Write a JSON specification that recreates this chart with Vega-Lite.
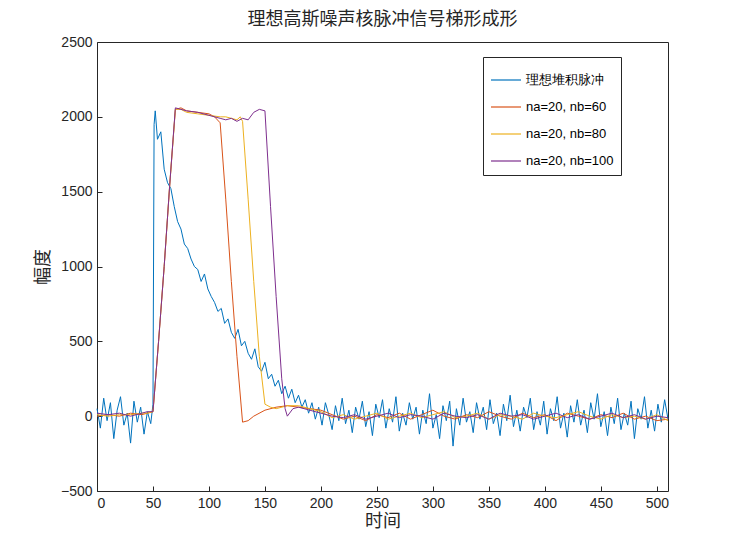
{
  "$schema": "https://vega.github.io/schema/vega-lite/v6.json",
  "width": 571,
  "height": 449,
  "autosize": "none",
  "padding": {"left": 97, "top": 42, "right": 71, "bottom": 63},
  "background": "white",
  "config": {
    "font": "Noto Sans CJK SC",
    "view": {"stroke": "#262626", "strokeWidth": 1},
    "axis": {"grid": false, "domain": false, "tickSize": -5, "labelPadding": 10, "format": "d", "tickColor": "#262626", "labelFontSize": 14, "labelColor": "#262626", "titleFontSize": 18, "titleFontWeight": "normal", "titleColor": "#262626", "labelFont": "Liberation Sans"}
  },
  "title": {"text": "理想高斯噪声核脉冲信号梯形成形", "fontSize": 18, "fontWeight": "normal", "color": "#262626", "offset": 6},
  "datasets": {
    "blue": [
      {"t":0,"v":50},{"t":3,"v":-80},{"t":6,"v":120},{"t":9,"v":-30},{"t":12,"v":90},{"t":15,"v":-150},{"t":18,"v":40},{"t":21,"v":130},{"t":24,"v":-60},{"t":27,"v":20},{"t":30,"v":-180},{"t":33,"v":100},{"t":36,"v":-40},{"t":39,"v":60},{"t":42,"v":-120},{"t":45,"v":30},{"t":48,"v":-50},{"t":50,"v":80},{"t":51,"v":1950},{"t":52,"v":2040},{"t":54,"v":1850},{"t":57,"v":1900},{"t":60,"v":1650},{"t":63,"v":1560},{"t":66,"v":1520},{"t":69,"v":1400},{"t":72,"v":1300},{"t":75,"v":1250},{"t":78,"v":1150},{"t":81,"v":1120},{"t":84,"v":1050},{"t":87,"v":1000},{"t":90,"v":980},{"t":93,"v":900},{"t":96,"v":950},{"t":99,"v":850},{"t":102,"v":800},{"t":105,"v":760},{"t":108,"v":700},{"t":111,"v":720},{"t":114,"v":620},{"t":117,"v":650},{"t":120,"v":560},{"t":123,"v":520},{"t":126,"v":580},{"t":129,"v":470},{"t":132,"v":500},{"t":135,"v":420},{"t":138,"v":380},{"t":141,"v":450},{"t":144,"v":330},{"t":147,"v":300},{"t":150,"v":360},{"t":153,"v":250},{"t":156,"v":280},{"t":159,"v":200},{"t":162,"v":240},{"t":165,"v":150},{"t":168,"v":200},{"t":171,"v":120},{"t":174,"v":180},{"t":177,"v":90},{"t":180,"v":140},{"t":183,"v":60},{"t":186,"v":110},{"t":189,"v":20},{"t":192,"v":90},{"t":195,"v":-20},{"t":198,"v":60},
      {"t":201,"v":-60},{"t":204,"v":90},{"t":207,"v":10},{"t":210,"v":-90},{"t":213,"v":70},{"t":216,"v":-30},{"t":219,"v":120},{"t":222,"v":-50},{"t":225,"v":40},{"t":228,"v":-110},{"t":231,"v":60},{"t":234,"v":-20},{"t":237,"v":100},{"t":240,"v":-70},{"t":243,"v":30},{"t":246,"v":-130},{"t":249,"v":80},{"t":252,"v":-10},{"t":255,"v":110},{"t":258,"v":-80},{"t":261,"v":50},{"t":264,"v":-40},{"t":267,"v":130},{"t":270,"v":-100},{"t":273,"v":20},{"t":276,"v":-60},{"t":279,"v":90},{"t":282,"v":-20},{"t":285,"v":60},{"t":288,"v":-120},{"t":291,"v":40},{"t":294,"v":-50},{"t":297,"v":150},{"t":300,"v":-80},{"t":303,"v":10},{"t":306,"v":-150},{"t":309,"v":70},{"t":312,"v":-30},{"t":315,"v":100},{"t":318,"v":-200},{"t":321,"v":50},{"t":324,"v":-60},{"t":327,"v":120},{"t":330,"v":-40},{"t":333,"v":30},{"t":336,"v":-110},{"t":339,"v":90},{"t":342,"v":-20},{"t":345,"v":60},{"t":348,"v":-90},{"t":351,"v":110},{"t":354,"v":-50},{"t":357,"v":20},{"t":360,"v":-130},{"t":363,"v":80},{"t":366,"v":-30},{"t":369,"v":140},{"t":372,"v":-70},{"t":375,"v":40},{"t":378,"v":-100},{"t":381,"v":60},{"t":384,"v":-10},{"t":387,"v":120},{"t":390,"v":-90},{"t":393,"v":30},{"t":396,"v":-60},{"t":399,"v":100},{"t":402,"v":-120},{"t":405,"v":50},{"t":408,"v":-30},{"t":411,"v":130},{"t":414,"v":-80},{"t":417,"v":20},{"t":420,"v":-140},{"t":423,"v":70},{"t":426,"v":-40},{"t":429,"v":110},{"t":432,"v":-60},{"t":435,"v":40},{"t":438,"v":-110},{"t":441,"v":90},{"t":444,"v":-20},{"t":447,"v":150},{"t":450,"v":-70},{"t":453,"v":30},{"t":456,"v":-130},{"t":459,"v":60},{"t":462,"v":-50},{"t":465,"v":120},{"t":468,"v":-90},{"t":471,"v":20},{"t":474,"v":-60},{"t":477,"v":100},{"t":480,"v":-150},{"t":483,"v":50},{"t":486,"v":-20},{"t":489,"v":130},{"t":492,"v":-80},{"t":495,"v":40},{"t":498,"v":-100},{"t":501,"v":80},{"t":504,"v":-40},{"t":507,"v":110},{"t":510,"v":-20}
    ],
    "red": [
      {"t":0,"v":0},{"t":10,"v":10},{"t":20,"v":0},{"t":30,"v":20},{"t":40,"v":10},{"t":45,"v":20},{"t":50,"v":30},{"t":55,"v":500},{"t":60,"v":1000},{"t":65,"v":1550},{"t":70,"v":2050},{"t":75,"v":2060},{"t":80,"v":2040},{"t":90,"v":2030},{"t":100,"v":2020},{"t":105,"v":2000},{"t":110,"v":1960},{"t":115,"v":1450},{"t":120,"v":900},{"t":125,"v":400},{"t":130,"v":-40},{"t":135,"v":-30},{"t":140,"v":0},{"t":150,"v":40},{"t":160,"v":60},{"t":170,"v":70},{"t":180,"v":60},{"t":190,"v":50},{"t":200,"v":40},{"t":210,"v":10},{"t":220,"v":-20},{"t":230,"v":0},{"t":240,"v":-30},{"t":250,"v":10},{"t":260,"v":-10},{"t":270,"v":20},{"t":280,"v":-20},{"t":290,"v":10},{"t":300,"v":40},{"t":310,"v":0},{"t":320,"v":-20},{"t":330,"v":10},{"t":340,"v":-10},{"t":350,"v":30},{"t":360,"v":0},{"t":370,"v":-20},{"t":380,"v":20},{"t":390,"v":-10},{"t":400,"v":10},{"t":410,"v":-30},{"t":420,"v":20},{"t":430,"v":0},{"t":440,"v":-20},{"t":450,"v":10},{"t":460,"v":-10},{"t":470,"v":20},{"t":480,"v":-20},{"t":490,"v":0},{"t":500,"v":-30},{"t":510,"v":-20}
    ],
    "yellow": [
      {"t":0,"v":10},{"t":10,"v":0},{"t":20,"v":10},{"t":30,"v":10},{"t":40,"v":20},{"t":45,"v":20},{"t":50,"v":30},{"t":55,"v":500},{"t":60,"v":1000},{"t":65,"v":1550},{"t":70,"v":2050},{"t":75,"v":2050},{"t":80,"v":2030},{"t":90,"v":2020},{"t":100,"v":2010},{"t":110,"v":2000},{"t":115,"v":2000},{"t":120,"v":1990},{"t":125,"v":1980},{"t":128,"v":2000},{"t":130,"v":1970},{"t":135,"v":1450},{"t":140,"v":900},{"t":145,"v":400},{"t":150,"v":80},{"t":155,"v":60},{"t":160,"v":50},{"t":170,"v":70},{"t":180,"v":70},{"t":190,"v":50},{"t":200,"v":30},{"t":210,"v":-10},{"t":220,"v":10},{"t":230,"v":-20},{"t":240,"v":0},{"t":250,"v":20},{"t":260,"v":-20},{"t":270,"v":0},{"t":280,"v":20},{"t":290,"v":-10},{"t":300,"v":10},{"t":310,"v":30},{"t":320,"v":-10},{"t":330,"v":0},{"t":340,"v":20},{"t":350,"v":-20},{"t":360,"v":10},{"t":370,"v":0},{"t":380,"v":-20},{"t":390,"v":20},{"t":400,"v":0},{"t":410,"v":-10},{"t":420,"v":10},{"t":430,"v":30},{"t":440,"v":0},{"t":450,"v":-20},{"t":460,"v":10},{"t":470,"v":-10},{"t":480,"v":0},{"t":490,"v":-20},{"t":500,"v":10},{"t":510,"v":-30}
    ],
    "purple": [
      {"t":0,"v":20},{"t":10,"v":10},{"t":20,"v":20},{"t":30,"v":0},{"t":40,"v":20},{"t":45,"v":30},{"t":50,"v":30},{"t":55,"v":500},{"t":60,"v":1000},{"t":65,"v":1550},{"t":70,"v":2060},{"t":75,"v":2050},{"t":80,"v":2040},{"t":90,"v":2030},{"t":100,"v":2010},{"t":110,"v":1990},{"t":115,"v":1980},{"t":120,"v":1990},{"t":125,"v":1970},{"t":130,"v":1990},{"t":135,"v":1980},{"t":140,"v":2030},{"t":145,"v":2050},{"t":150,"v":2040},{"t":155,"v":1400},{"t":160,"v":800},{"t":165,"v":250},{"t":168,"v":50},{"t":170,"v":0},{"t":175,"v":50},{"t":180,"v":60},{"t":190,"v":40},{"t":200,"v":20},{"t":210,"v":0},{"t":220,"v":-10},{"t":230,"v":10},{"t":240,"v":-20},{"t":250,"v":0},{"t":260,"v":20},{"t":270,"v":-10},{"t":280,"v":10},{"t":290,"v":0},{"t":300,"v":-20},{"t":310,"v":20},{"t":320,"v":0},{"t":330,"v":-10},{"t":340,"v":10},{"t":350,"v":-20},{"t":360,"v":20},{"t":370,"v":0},{"t":380,"v":10},{"t":390,"v":-20},{"t":400,"v":0},{"t":410,"v":20},{"t":420,"v":-10},{"t":430,"v":10},{"t":440,"v":-20},{"t":450,"v":0},{"t":460,"v":20},{"t":470,"v":-10},{"t":480,"v":10},{"t":490,"v":-20},{"t":500,"v":0},{"t":510,"v":-10}
    ]
  },
  "encoding": {
    "x": {"field": "t", "type": "quantitative", "title": "时间", "scale": {"domain": [0, 510], "nice": false}, "axis": {"values": [0,50,100,150,200,250,300,350,400,450,500], "titlePadding": 2}},
    "y": {"field": "v", "type": "quantitative", "title": "幅度", "scale": {"domain": [-500, 2500], "nice": false}, "axis": {"values": [-500,0,500,1000,1500,2000,2500], "titlePadding": 8}},
    "color": {"field": "s", "type": "nominal", "sort": ["理想堆积脉冲", "na=20, nb=60", "na=20, nb=80", "na=20, nb=100"],
      "scale": {"domain": ["理想堆积脉冲", "na=20, nb=60", "na=20, nb=80", "na=20, nb=100"], "range": ["#0072BD", "#D95319", "#EDB120", "#7E2F8E"]},
      "legend": {"title": null, "orient": "none", "legendX": 386, "legendY": 15, "strokeColor": "#262626", "fillColor": "white", "padding": 7, "symbolType": "stroke", "symbolSize": 900, "symbolStrokeWidth": 1.2, "labelFontSize": 13, "labelFont": "Liberation Sans", "labelColor": "#000", "rowPadding": 4}}
  },
  "layer": [
    {"data": {"name": "blue"}, "transform": [{"calculate": "'理想堆积脉冲'", "as": "s"}], "mark": {"type": "line", "strokeWidth": 1}},
    {"data": {"name": "red"}, "transform": [{"calculate": "'na=20, nb=60'", "as": "s"}], "mark": {"type": "line", "strokeWidth": 1}},
    {"data": {"name": "yellow"}, "transform": [{"calculate": "'na=20, nb=80'", "as": "s"}], "mark": {"type": "line", "strokeWidth": 1}},
    {"data": {"name": "purple"}, "transform": [{"calculate": "'na=20, nb=100'", "as": "s"}], "mark": {"type": "line", "strokeWidth": 1}}
  ]
}
